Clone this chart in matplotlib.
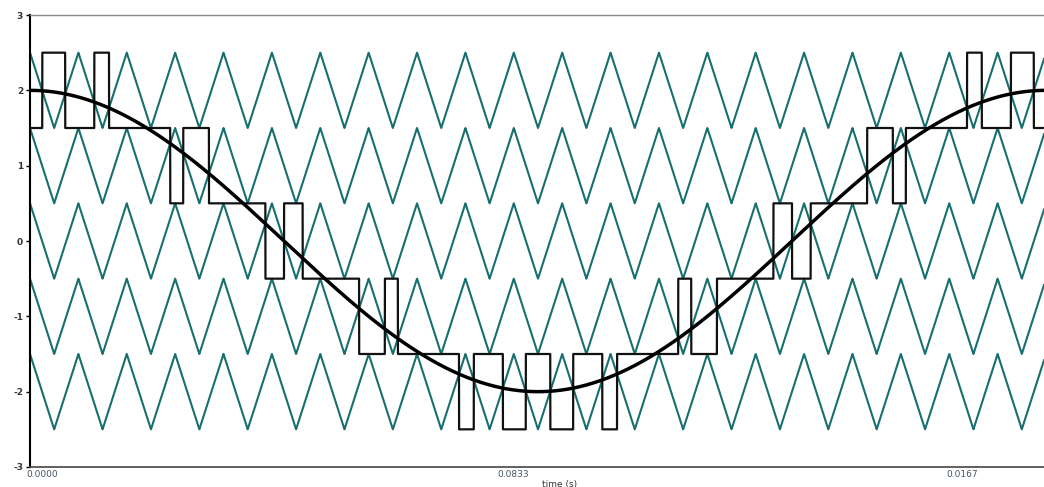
import numpy as np
import matplotlib.pyplot as plt

# Reference / carrier parameters (phase-disposition multilevel PWM)
ref_freq = 60.0              # Hz
ref_amplitude = 2.0
carriers_per_cycle = 21      # carrier periods in one reference cycle
carrier_bottoms = [-2.5, -1.5, -0.5, 0.5, 1.5]
carrier_height = 1.0
output_low = -2.5

# Axis labels
y_ticks = [-3, -2, -1, 0, 1, 2, 3]
x_tick_pos = [0.0002, 0.00792, 0.01529]
x_tick_labels = ['0.0000', '0.0833', '0.0167']

t_end = (1.0 / ref_freq) * 1014 / 1016
t = np.linspace(0, t_end, 40001)

ref = ref_amplitude * np.cos(2 * np.pi * ref_freq * t)
fc = ref_freq * carriers_per_cycle
phase = (t * fc) % 1.0
tri = np.abs(2 * phase - 1)  # 1 at t=0 (peak), 0 at half period

fig = plt.figure(figsize=(10.44, 4.87), dpi=100)
ax = fig.add_axes([30 / 1044, 20 / 487, 1014 / 1044, 452 / 487])

out = np.full_like(t, output_low)
for b in carrier_bottoms:
    carrier = b + carrier_height * tri
    ax.plot(t, carrier, color='#17706f', lw=1.5, zorder=2)
    out += (ref > carrier).astype(float) * carrier_height

ax.plot(t, out, color='#111111', lw=1.6, zorder=3)
ax.plot(t, ref, color='black', lw=2.5, zorder=4)

ax.set_xlim(0, t_end)
ax.set_ylim(-3, 3)
ax.set_yticks(y_ticks)
ax.set_yticklabels([str(v) for v in y_ticks], fontsize=6.5, color='#333333',
                   fontweight='bold')
ax.set_xticks(x_tick_pos)
ax.set_xticklabels(x_tick_labels, fontsize=6.5, color='#445566')
ax.tick_params(axis='x', length=0, pad=2)
ax.tick_params(axis='y', length=3, width=1, pad=2)

ax.spines['right'].set_visible(False)
ax.spines['top'].set_color('#888888')
ax.spines['top'].set_linewidth(1.0)
ax.spines['bottom'].set_color('#444444')
ax.spines['bottom'].set_linewidth(1.2)
ax.spines['left'].set_color('black')
ax.spines['left'].set_linewidth(1.5)

fig.text(560 / 1044, 1 - 484 / 487, 'time (s)', fontsize=6.5, color='#333333',
         ha='center', va='center')

fig.savefig('out.png', dpi=100)
